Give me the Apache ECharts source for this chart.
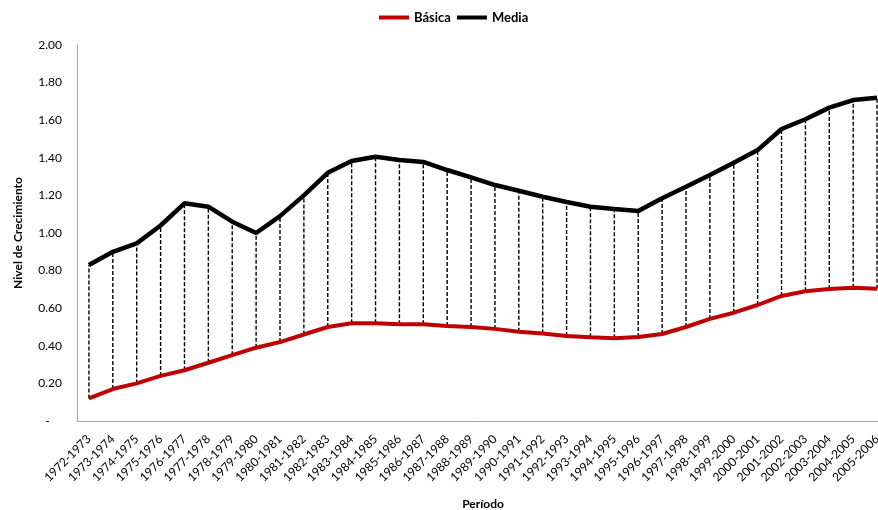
<!DOCTYPE html>
<html>
<head>
<meta charset="utf-8">
<title>Nivel de Crecimiento</title>
<script src="https://cdn.jsdelivr.net/npm/echarts@6/dist/echarts.min.js"></script>
<style>
  html, body { margin: 0; padding: 0; background: #fff; }
  #chart { width: 878px; height: 510px; }
</style>
</head>
<body>
<div id="chart"></div>
<script>
// School years on the category axis
const periodos = [
  '1972-1973','1973-1974','1974-1975','1975-1976','1976-1977','1977-1978',
  '1978-1979','1979-1980','1980-1981','1981-1982','1982-1983','1983-1984',
  '1984-1985','1985-1986','1986-1987','1987-1988','1988-1989','1989-1990',
  '1990-1991','1991-1992','1992-1993','1993-1994','1994-1995','1995-1996',
  '1996-1997','1997-1998','1998-1999','1999-2000','2000-2001','2001-2002',
  '2002-2003','2003-2004','2004-2005','2005-2006'
];

// Growth level, basic education
const basica = [
  0.12, 0.17, 0.20, 0.24, 0.27, 0.31, 0.35, 0.39, 0.42, 0.46,
  0.50, 0.52, 0.52, 0.515, 0.515, 0.505, 0.50, 0.49, 0.475, 0.465,
  0.452, 0.445, 0.44, 0.447, 0.463, 0.50, 0.543, 0.576, 0.617, 0.665,
  0.69, 0.702, 0.709, 0.704
];

// Growth level, secondary education
const media = [
  0.83, 0.90, 0.945, 1.04, 1.158, 1.14, 1.06, 1.00, 1.09, 1.20,
  1.32, 1.383, 1.406, 1.388, 1.378, 1.335, 1.296, 1.255, 1.225, 1.193,
  1.165, 1.14, 1.128, 1.117, 1.185, 1.246, 1.309, 1.374, 1.441, 1.553,
  1.605, 1.667, 1.707, 1.72
];

const nombres = ['Básica', 'Media'];
const FONT = 'Lato, "Open Sans", sans-serif';

// High-low connectors: one row per period [index, low, high]
const conectores = periodos.map((p, i) => [i, basica[i], media[i]]);

const chart = echarts.init(document.getElementById('chart'), null, { renderer: 'canvas' });

chart.setOption({
  backgroundColor: '#ffffff',
  animation: false,
  textStyle: { fontFamily: FONT, color: '#000' },
  legend: {
    data: nombres,
    top: 6,
    left: 374,
    itemGap: 6,
    itemWidth: 30,
    itemHeight: 4,
    icon: 'rect',
    textStyle: { fontFamily: FONT, fontSize: 13, fontWeight: 'bold', color: '#000' }
  },
  // the plot runs a little past the right edge, so the last period sits at the border
  grid: { left: 77, right: -11, top: 45, bottom: 89, containLabel: false, outerBoundsMode: 'none' },
  xAxis: {
    type: 'category',
    data: periodos,
    boundaryGap: true,
    name: 'Período',
    nameLocation: 'middle',
    nameGap: 77,
    nameTextStyle: { fontFamily: FONT, fontSize: 12, fontWeight: 'bold', color: '#000' },
    axisLine: { show: true, lineStyle: { color: '#a6a6a6', width: 1 } },
    axisTick: { show: false },
    axisLabel: {
      rotate: 45,
      interval: 0,
      margin: 16,
      fontFamily: FONT,
      fontSize: 12,
      color: '#000'
    },
    splitLine: { show: false }
  },
  yAxis: {
    type: 'value',
    min: 0,
    max: 2,
    interval: 0.2,
    name: 'Nivel de Crecimiento',
    nameLocation: 'middle',
    nameGap: 53,
    nameRotate: 90,
    nameTextStyle: { fontFamily: FONT, fontSize: 12, fontWeight: 'bold', color: '#000' },
    axisLine: { show: true, lineStyle: { color: '#a6a6a6', width: 1 } },
    axisTick: { show: false },
    splitLine: { show: false },
    axisLabel: {
      margin: 15,
      fontFamily: FONT,
      fontSize: 12,
      color: '#000',
      formatter: v => (v === 0 ? '-    ' : v.toFixed(2))
    }
  },
  series: [
    {
      type: 'custom',
      name: 'conectores',
      z: 1,
      silent: true,
      data: conectores,
      encode: { x: 0, y: [1, 2] },
      renderItem: function (params, api) {
        const lo = api.coord([api.value(0), api.value(1)]);
        const hi = api.coord([api.value(0), api.value(2)]);
        return {
          type: 'line',
          shape: { x1: lo[0], y1: lo[1], x2: hi[0], y2: hi[1] },
          style: { stroke: '#000', lineWidth: 1.4, lineDash: [4, 2] }
        };
      }
    },
    {
      type: 'line',
      name: nombres[0],
      data: basica,
      z: 3,
      symbol: 'none',
      lineStyle: { color: '#c00000', width: 4 },
      itemStyle: { color: '#c00000' }
    },
    {
      type: 'line',
      name: nombres[1],
      data: media,
      z: 3,
      symbol: 'none',
      lineStyle: { color: '#000000', width: 4.5 },
      itemStyle: { color: '#000000' }
    }
  ]
});
</script>
</body>
</html>
